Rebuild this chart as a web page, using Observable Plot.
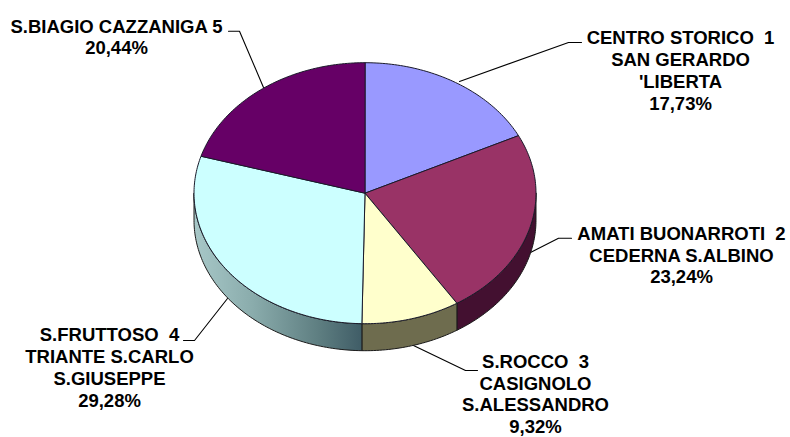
<!DOCTYPE html>
<html><head><meta charset="utf-8">
<style>html,body{margin:0;padding:0;background:#fff}svg{display:block}</style>
<script src="https://cdn.jsdelivr.net/npm/d3@7"></script>
<script src="https://cdn.jsdelivr.net/npm/@observablehq/plot@0.6"></script>
</head><body><div id="chart"></div>
<script>
const names = ["CENTRO STORICO  1\nSAN GERARDO\n'LIBERTA","AMATI BUONARROTI  2\nCEDERNA S.ALBINO","S.ROCCO  3\nCASIGNOLO\nS.ALESSANDRO","S.FRUTTOSO  4\nTRIANTE S.CARLO\nS.GIUSEPPE","S.BIAGIO CAZZANIGA 5"];
const shares = [17.73,23.24,9.32,29.28,20.44];
const percentLabels = ["17,73%","23,24%","9,32%","29,28%","20,44%"];
const topColors = ["#9999ff","#993366","#ffffcc","#ccffff","#660066"];
const sideColors = ["#4d4d80","#431030","#6e6c4e","url(#cyanSide)","#330033"];
const labelX = [680,681,535,109,116];
const labelY = [69.5,254,393,366.5,36];
const leaders = [
  [[581,42],[568,42],[459,81]],
  [[571,237.7],[558,237.7],[528,253]],
  [[477,370],[465,370],[413,345]],
  [[183,340],[194,340],[227,298]],
  [[228,30.7],[239,30.7],[263,87]]
];
const cx=364.5, cy=192.7, rx=171, ry=130.5, depth=27;
const pt=(deg,dy=0)=>{const a=deg*Math.PI/180;return [cx+rx*Math.sin(a),cy-ry*Math.cos(a)+dy];};
let cum=0;
const arcs=shares.map(s=>{const a0=cum/100*360;cum+=s;return [a0,cum/100*360];});
const range=(a,b)=>{const n=Math.max(2,Math.ceil(Math.abs(b-a)));return d3.range(n+1).map(i=>a+(b-a)*i/n);};
const topPoly=[],sidePoly=[],leaderRows=[];
arcs.forEach(([a0,a1],i)=>{
  topPoly.push({i,p:[cx,cy]});
  range(a0,a1).forEach(a=>topPoly.push({i,p:pt(a)}));
  topPoly.push({i,p:[cx,cy]});
  const s0=Math.max(a0,90),s1=Math.min(a1,270);
  if(s1>s0){
    range(s0,s1).forEach(a=>sidePoly.push({i,p:pt(a)}));
    range(s1,s0).forEach(a=>sidePoly.push({i,p:pt(a,depth)}));
    sidePoly.push({i,p:pt(s0)});
  }
});
leaders.forEach((l,i)=>l.forEach(p=>leaderRows.push({i,p})));
const labels=shares.map((s,i)=>({x:labelX[i],y:labelY[i],t:names[i]+"\n"+percentLabels[i]}));
const defs=()=>{
  const ns="http://www.w3.org/2000/svg";
  const d=document.createElementNS(ns,"defs");
  d.innerHTML=`<linearGradient id="cyanSide" gradientUnits="userSpaceOnUse" x1="193" y1="0" x2="362" y2="0">
  <stop offset="0" stop-color="#a8c8c8"/><stop offset="0.35" stop-color="#8aacac"/><stop offset="0.75" stop-color="#5d7d80"/><stop offset="1" stop-color="#3f5c66"/></linearGradient>`;
  return d;
};
const plot=Plot.plot({
  width:790,height:437,margin:0,
  style:{background:"#fff"},
  x:{domain:[0,790],range:[0,790],axis:null},
  y:{domain:[0,437],range:[0,437],axis:null},
  marks:[
    defs,
    Plot.line(leaderRows,{x:d=>d.p[0],y:d=>d.p[1],z:"i",stroke:"#000",strokeWidth:1.1,curve:"linear"}),
    Plot.line(sidePoly,{x:d=>d.p[0],y:d=>d.p[1],z:"i",fill:d=>sideColors[d.i],stroke:"#1a1a1a",strokeWidth:1,curve:"linear"}),
    Plot.line(topPoly,{x:d=>d.p[0],y:d=>d.p[1],z:"i",fill:d=>topColors[d.i],stroke:"#1a1a2a",strokeWidth:1,curve:"linear"}),
    Plot.text(labels,{x:"x",y:"y",text:"t",textAnchor:"middle",lineAnchor:"middle",lineHeight:1.18,fontSize:18.5,fontWeight:"bold",fontFamily:"'Liberation Sans',Arial,sans-serif",fill:"#000"})
  ]
});
document.getElementById("chart").append(plot);
</script></body></html>
